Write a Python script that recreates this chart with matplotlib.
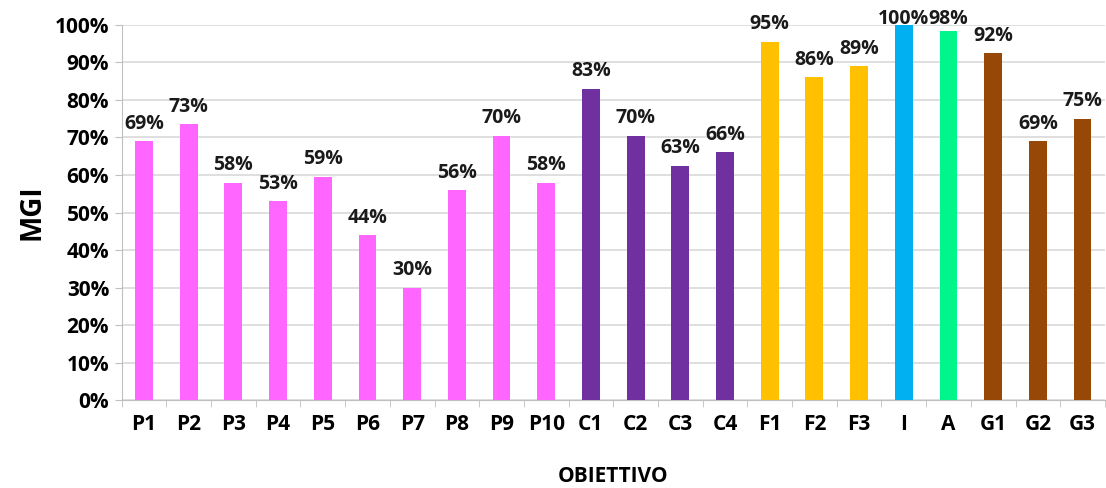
import matplotlib.pyplot as plt
import numpy as np

objectives = ['P1', 'P2', 'P3', 'P4', 'P5', 'P6', 'P7', 'P8', 'P9', 'P10',
              'C1', 'C2', 'C3', 'C4', 'F1', 'F2', 'F3', 'I', 'A', 'G1', 'G2', 'G3']
mgi = [0.69, 0.735, 0.58, 0.53, 0.595, 0.44, 0.30, 0.56, 0.705, 0.58,
       0.83, 0.705, 0.625, 0.66, 0.955, 0.86, 0.89, 1.00, 0.985, 0.925, 0.69, 0.75]
labels = ['69%', '73%', '58%', '53%', '59%', '44%', '30%', '56%', '70%', '58%',
          '83%', '70%', '63%', '66%', '95%', '86%', '89%', '100%', '98%', '92%', '69%', '75%']
groups = ['P'] * 10 + ['C'] * 4 + ['F'] * 3 + ['I', 'A'] + ['G'] * 3
group_colors = {'P': '#FF66FF', 'C': '#7030A0', 'F': '#FFC000',
                'I': '#00B0F0', 'A': '#00F58A', 'G': '#974706'}

plt.rcParams['font.family'] = ['Open Sans', 'DejaVu Sans']
plt.rcParams['font.weight'] = 'bold'

fig = plt.figure(figsize=(11.06, 4.88), dpi=100)
ax = fig.add_axes([0.110, 0.180, 0.889, 0.769])

x = np.arange(len(objectives))
colors = [group_colors[g] for g in groups]
ax.bar(x, mgi, width=0.4, color=colors, zorder=3)

# labels above bars, kept inside the top of the plot like Excel does
for xi, v, lab in zip(x, mgi, labels):
    ax.text(xi, min(v + 0.02, 0.99), lab, ha='center', va='bottom', fontsize=14,
            fontweight='bold', color='#1a1a1a', clip_on=False, zorder=4)

ax.set_xlim(-0.5, len(objectives) - 0.5)
ax.set_ylim(0, 1.0)
ax.set_yticks(np.arange(0, 1.01, 0.1))
ax.set_yticklabels([f'{int(round(t * 100))}%' for t in np.arange(0, 1.01, 0.1)],
                   fontsize=15, fontweight='bold')
ax.set_xticks(x)
ax.set_xticklabels(objectives, fontsize=15, fontweight='bold')
ax.set_xticks(np.arange(-0.5, len(objectives)), minor=True)
ax.tick_params(axis='x', which='major', length=0, pad=10)
ax.tick_params(axis='x', which='minor', length=5, color='#BFBFBF', direction='out')
ax.tick_params(axis='y', length=5, color='#BFBFBF', pad=4)

ax.grid(axis='y', color='#D9D9D9', linewidth=1.2, zorder=0)
for side in ['top', 'right']:
    ax.spines[side].set_visible(False)
for side in ['left', 'bottom']:
    ax.spines[side].set_color('#BFBFBF')

ax.set_ylabel('MGI', fontsize=20, fontweight='bold', labelpad=6)
ax.set_xlabel('OBIETTIVO', fontsize=15, fontweight='bold', labelpad=22)

fig.savefig('out.png', dpi=100)
